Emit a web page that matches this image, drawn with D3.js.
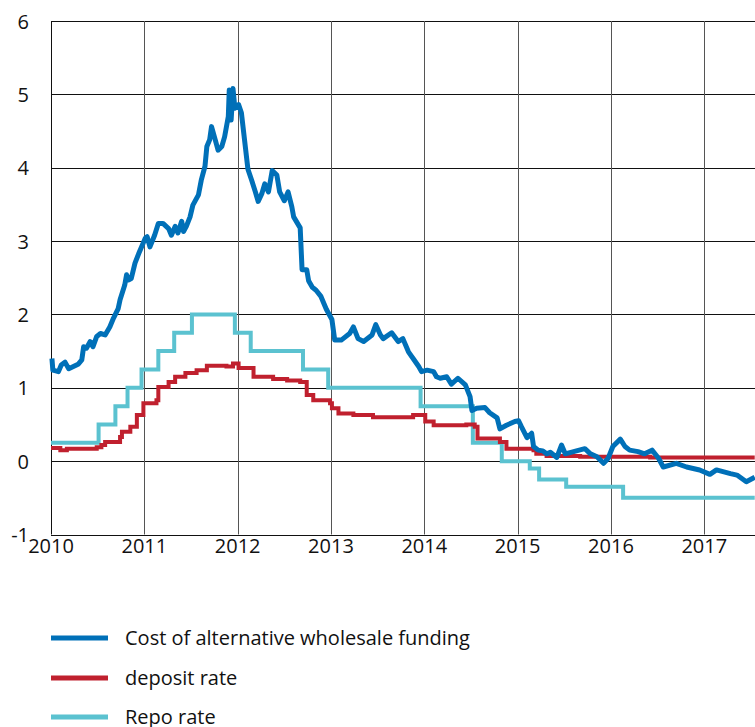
<!DOCTYPE html>
<html>
<head>
<meta charset="utf-8">
<script src="https://cdn.jsdelivr.net/npm/d3@7"></script>
<style>
  body { margin: 0; background: #fff; }
  svg text { font-family: "Open Sans", sans-serif; fill: #111; }
</style>
</head>
<body>
<div id="chart"></div>
<script>
// chart size
var svgWidth = 755;
var svgHeight = 727;

// tick labels
var yearTicks = [2010, 2011, 2012, 2013, 2014, 2015, 2016, 2017];
var valueTicks = [-1, 0, 1, 2, 3, 4, 5, 6];

// Cost of alternative wholesale funding
var fundingDates = [2010.01, 2010.02, 2010.08, 2010.11, 2010.15, 2010.19, 2010.24, 2010.29, 2010.33, 2010.35,
  2010.38, 2010.42, 2010.45, 2010.49, 2010.53, 2010.58, 2010.63, 2010.67, 2010.72, 2010.74,
  2010.79, 2010.81, 2010.83, 2010.86, 2010.90, 2010.94, 2010.97, 2011.01, 2011.03, 2011.06,
  2011.11, 2011.15, 2011.20, 2011.26, 2011.29, 2011.33, 2011.36, 2011.40, 2011.42, 2011.45,
  2011.49, 2011.52, 2011.58, 2011.61, 2011.65, 2011.67, 2011.70, 2011.72, 2011.76, 2011.79,
  2011.83, 2011.86, 2011.90, 2011.91, 2011.93, 2011.95, 2011.97, 2012.01, 2012.04, 2012.08,
  2012.11, 2012.15, 2012.19, 2012.22, 2012.26, 2012.29, 2012.33, 2012.37, 2012.42, 2012.45,
  2012.50, 2012.54, 2012.58, 2012.60, 2012.67, 2012.69, 2012.74, 2012.76, 2012.80, 2012.84,
  2012.89, 2012.95, 2013.01, 2013.04, 2013.11, 2013.20, 2013.24, 2013.29, 2013.35, 2013.44,
  2013.48, 2013.53, 2013.56, 2013.65, 2013.72, 2013.77, 2013.83, 2013.88, 2013.94, 2013.97,
  2014.03, 2014.10, 2014.13, 2014.17, 2014.24, 2014.29, 2014.36, 2014.44, 2014.49, 2014.51,
  2014.56, 2014.65, 2014.70, 2014.78, 2014.81, 2014.88, 2014.97, 2015.01, 2015.04, 2015.10,
  2015.15, 2015.17, 2015.22, 2015.27, 2015.31, 2015.35, 2015.42, 2015.47, 2015.51, 2015.60,
  2015.72, 2015.78, 2015.85, 2015.92, 2015.97, 2016.02, 2016.10, 2016.15, 2016.20, 2016.29,
  2016.36, 2016.44, 2016.51, 2016.56, 2016.70, 2016.81, 2016.95, 2017.06, 2017.13, 2017.28,
  2017.35, 2017.45, 2017.54];
var fundingValues = [1.40, 1.24, 1.22, 1.31, 1.35, 1.26, 1.29, 1.32, 1.38, 1.56,
  1.54, 1.63, 1.56, 1.70, 1.74, 1.72, 1.83, 1.95, 2.08, 2.20,
  2.40, 2.54, 2.47, 2.49, 2.70, 2.83, 2.92, 3.04, 3.06, 2.92,
  3.08, 3.24, 3.24, 3.17, 3.08, 3.20, 3.11, 3.27, 3.13, 3.20,
  3.33, 3.49, 3.63, 3.83, 4.02, 4.29, 4.38, 4.56, 4.38, 4.24,
  4.29, 4.42, 4.70, 5.06, 4.65, 5.08, 4.81, 4.86, 4.75, 4.31,
  3.98, 3.83, 3.67, 3.54, 3.65, 3.78, 3.67, 3.96, 3.90, 3.67,
  3.55, 3.67, 3.47, 3.33, 3.18, 2.61, 2.61, 2.46, 2.37, 2.33,
  2.25, 2.07, 1.93, 1.65, 1.65, 1.74, 1.83, 1.67, 1.63, 1.72,
  1.86, 1.72, 1.67, 1.75, 1.63, 1.67, 1.49, 1.40, 1.29, 1.22,
  1.24, 1.22, 1.15, 1.13, 1.15, 1.05, 1.13, 1.04, 0.88, 0.69,
  0.72, 0.73, 0.66, 0.59, 0.44, 0.49, 0.54, 0.55, 0.47, 0.32,
  0.38, 0.20, 0.15, 0.14, 0.10, 0.12, 0.05, 0.22, 0.10, 0.13,
  0.17, 0.10, 0.06, -0.03, 0.04, 0.20, 0.30, 0.20, 0.15, 0.13,
  0.10, 0.15, 0.04, -0.08, -0.03, -0.08, -0.12, -0.18, -0.12, -0.17,
  -0.19, -0.28, -0.22];

// deposit rate (step changes)
var depositDates = [2010.00, 2010.10, 2010.17, 2010.49, 2010.54, 2010.58, 2010.74, 2010.76, 2010.85, 2010.92,
  2010.99, 2011.13, 2011.15, 2011.26, 2011.33, 2011.44, 2011.56, 2011.67, 2011.88, 2011.95,
  2012.01, 2012.17, 2012.38, 2012.53, 2012.67, 2012.74, 2012.81, 2012.99, 2013.01, 2013.08,
  2013.24, 2013.45, 2013.88, 2014.01, 2014.10, 2014.45, 2014.54, 2014.57, 2014.81, 2014.88,
  2015.17, 2015.20, 2015.31, 2015.67, 2016.42, 2017.54];
var depositValues = [0.18, 0.15, 0.17, 0.19, 0.22, 0.26, 0.33, 0.40, 0.47, 0.63,
  0.79, 0.83, 1.01, 1.08, 1.15, 1.20, 1.24, 1.30, 1.29, 1.33,
  1.27, 1.15, 1.12, 1.10, 1.08, 0.90, 0.83, 0.79, 0.72, 0.65,
  0.63, 0.60, 0.63, 0.54, 0.49, 0.50, 0.47, 0.31, 0.26, 0.17,
  0.15, 0.10, 0.07, 0.06, 0.05, 0.05];

// repo rate (step changes)
var repoDates = [2010.00, 2010.51, 2010.69, 2010.82, 2010.97, 2011.15, 2011.32, 2011.51, 2011.97, 2012.14,
  2012.70, 2012.97, 2013.96, 2014.52, 2014.83, 2015.13, 2015.23, 2015.52, 2016.13, 2017.54];
var repoValues = [0.25, 0.5, 0.75, 1.0, 1.25, 1.5, 1.75, 2.0, 1.75, 1.5,
  1.25, 1.0, 0.75, 0.25, 0.0, -0.1, -0.25, -0.35, -0.5, -0.5];

var seriesNames = ["Cost of alternative wholesale funding", "deposit rate", "Repo rate"];
var seriesColors = ["#0070b8", "#c0202e", "#5bc2d0"];

var plotLeft = 51;
var plotRight = 755;
var plotTop = 21;
var plotBottom = 534.5;

var svg = d3.select("#chart")
  .append("svg")
  .attr("width", svgWidth)
  .attr("height", svgHeight);

var xScale = d3.scaleLinear()
  .domain([2010, 2018])
  .range([plotLeft, plotLeft + 8 * 93.33]);

var yScale = d3.scaleLinear()
  .domain([-1, 6])
  .range([plotBottom, plotTop]);

// horizontal grid lines
svg.append("g")
  .selectAll("line")
  .data(valueTicks)
  .enter()
  .append("line")
  .attr("x1", plotLeft)
  .attr("x2", plotRight)
  .attr("y1", d => Math.round(yScale(d)) + 0.5)
  .attr("y2", d => Math.round(yScale(d)) + 0.5)
  .attr("stroke", "#111")
  .attr("stroke-width", 1);

// vertical grid lines
svg.append("g")
  .selectAll("line")
  .data(yearTicks)
  .enter()
  .append("line")
  .attr("x1", d => Math.round(xScale(d)) + 0.5)
  .attr("x2", d => Math.round(xScale(d)) + 0.5)
  .attr("y1", plotTop)
  .attr("y2", plotBottom)
  .attr("stroke", d => d === 2010 ? "#111" : "#555")
  .attr("stroke-width", 1);

// y labels
svg.append("g")
  .selectAll("text")
  .data(valueTicks)
  .enter()
  .append("text")
  .attr("x", 29)
  .attr("y", d => yScale(d) + 7.5)
  .attr("text-anchor", "end")
  .style("font-size", "20px")
  .text(d => d);

// x labels
svg.append("g")
  .selectAll("text")
  .data(yearTicks)
  .enter()
  .append("text")
  .attr("x", d => xScale(d))
  .attr("y", 553)
  .attr("text-anchor", "middle")
  .style("font-size", "20px")
  .text(d => d);

function toPoints(dates, values) {
  return dates.map((d, i) => [d, values[i]]);
}

var smoothLine = d3.line()
  .x(d => xScale(d[0]))
  .y(d => yScale(d[1]));

var stepLine = d3.line()
  .curve(d3.curveStepAfter)
  .x(d => xScale(d[0]))
  .y(d => yScale(d[1]));

// repo rate first, then deposit, then funding on top
svg.append("path")
  .attr("d", stepLine(toPoints(repoDates, repoValues)))
  .attr("fill", "none")
  .attr("stroke", seriesColors[2])
  .attr("stroke-width", 4);

svg.append("path")
  .attr("d", stepLine(toPoints(depositDates, depositValues)))
  .attr("fill", "none")
  .attr("stroke", seriesColors[1])
  .attr("stroke-width", 4);

svg.append("path")
  .attr("d", smoothLine(toPoints(fundingDates, fundingValues)))
  .attr("fill", "none")
  .attr("stroke", seriesColors[0])
  .attr("stroke-width", 5)
  .attr("stroke-linejoin", "round");

// legend
var legendY = [638, 678, 717];
var legend = svg.append("g")
  .selectAll("g")
  .data(seriesNames)
  .enter()
  .append("g")
  .attr("transform", (d, i) => `translate(0, ${legendY[i]})`);

legend.append("line")
  .attr("x1", 51)
  .attr("x2", 108)
  .attr("stroke", (d, i) => seriesColors[i])
  .attr("stroke-width", 5);

legend.append("text")
  .attr("x", 125)
  .attr("dy", "0.35em")
  .style("font-size", "20px")
  .text(d => d);
</script>
</body>
</html>
